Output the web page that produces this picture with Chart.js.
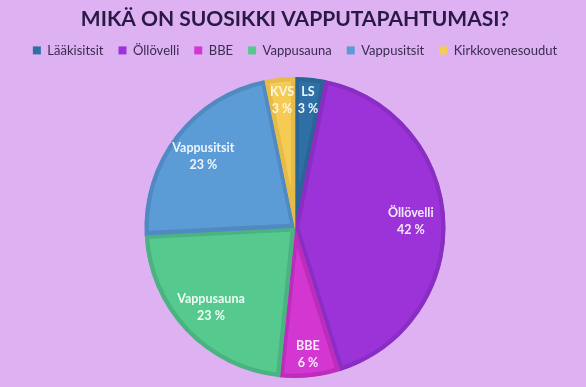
<!DOCTYPE html>
<html>
<head>
<meta charset="utf-8">
<script src="https://cdn.jsdelivr.net/npm/chart.js@4/dist/chart.umd.min.js"></script>
<style>
  html, body { margin: 0; padding: 0; background: #ddb1f2; }
  #wrap { width: 586px; height: 387px; }
</style>
</head>
<body>
<div id="wrap"><canvas id="c" width="586" height="387"></canvas></div>
<script>
// data (votes, shown as rounded percentages)
var legendNames = ["Lääkisitsit", "Öllövelli", "BBE", "Vappusauna", "Vappusitsit", "Kirkkovenesoudut"]
var sliceNames = ["LS", "Öllövelli", "BBE", "Vappusauna", "Vappusitsit", "KVS"]
var votes = [1, 13, 2, 7, 7, 1]

var fillColors = ["#2e70a6", "#9b33d8", "#d336d1", "#56c98f", "#5b9bd6", "#f5cb54"]
var edgeColors = ["#2a6596", "#8a2dc2", "#bb2dba", "#4bb381", "#518ac1", "#e6bb49"]
var textColors = ["#eef4fb", "#f4e9fb", "#fbeafb", "#effbf4", "#eef5fc", "#fdf6e0"]

var FONT = "Lato, 'Open Sans', sans-serif"

// adds empty space under the legend so the pie starts lower
const legendGap = {
    id: "legendGap",
    beforeInit(chart) {
        const origFit = chart.legend.fit
        chart.legend.fit = function () {
            origFit.bind(chart.legend)()
            this.height += 10
        }
    }
}

// two-line labels inside the slices
const sliceLabels = {
    id: "sliceLabels",
    afterDatasetsDraw(chart) {
        const ctx = chart.ctx
        const meta = chart.getDatasetMeta(0)
        const total = votes.reduce((a, b) => a + b, 0)
        ctx.save()
        ctx.font = "bold 12.5px " + FONT
        ctx.textAlign = "center"
        ctx.textBaseline = "middle"
        meta.data.forEach(function (arc, i) {
            const p = arc.getProps(["x", "y", "startAngle", "endAngle", "outerRadius"], true)
            const mid = (p.startAngle + p.endAngle) / 2
            const frac = votes[i] / total
            const r = p.outerRadius * (frac < 0.1 ? 0.85 : 0.77)
            const x = p.x + Math.cos(mid) * r
            const y = p.y + Math.sin(mid) * r
            ctx.fillStyle = textColors[i]
            ctx.fillText(sliceNames[i], x, y - 8.5)
            ctx.fillText(Math.round(frac * 100) + " %", x, y + 8.5)
        })
        ctx.restore()
    }
}

new Chart(document.getElementById("c"), {
    type: "pie",
    data: {
        labels: legendNames,
        datasets: [{
            data: votes,
            backgroundColor: fillColors,
            borderColor: edgeColors,
            borderWidth: 4,
            borderAlign: "inner",
            hoverOffset: 0
        }]
    },
    options: {
        responsive: false,
        animation: false,
        layout: { padding: { left: 4, right: 0, top: 0, bottom: 9 } },
        plugins: {
            tooltip: { enabled: false },
            title: {
                display: true,
                text: "MIKÄ ON SUOSIKKI VAPPUTAPAHTUMASI?",
                color: "#2a1944",
                font: { family: FONT, size: 21, weight: "bold", lineHeight: 0.9 },
                padding: { top: 10, bottom: 0 }
            },
            legend: {
                display: true,
                position: "top",
                labels: {
                    color: "#3a2c4f",
                    font: { family: FONT, size: 13 },
                    boxWidth: 8,
                    boxHeight: 8,
                    padding: 15,
                    generateLabels: function (chart) {
                        return legendNames.map(function (name, i) {
                            return {
                                text: name,
                                fillStyle: fillColors[i],
                                strokeStyle: fillColors[i],
                                lineWidth: 0,
                                fontColor: "#3a2c4f",
                                hidden: false,
                                index: i
                            }
                        })
                    }
                }
            }
        }
    },
    plugins: [legendGap, sliceLabels]
})
</script>
</body>
</html>
